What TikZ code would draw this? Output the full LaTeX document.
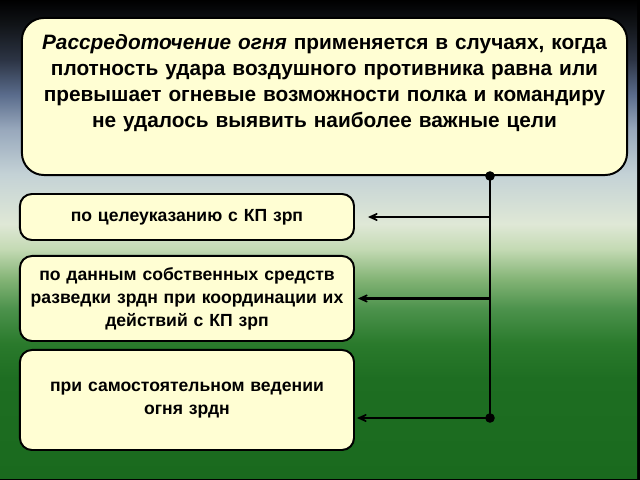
\documentclass[tikz,border=0pt]{standalone}
\usepackage{fontspec}
\setmainfont{Liberation Sans}
\usetikzlibrary{positioning,arrows.meta}

\definecolor{boxfill}{HTML}{FFFED3}
\definecolor{bgA}{HTML}{111418}
\definecolor{bgB}{HTML}{2C3444}
\definecolor{bgC}{HTML}{5A6C8C}
\definecolor{bgD}{HTML}{98A8BC}
\definecolor{bgE}{HTML}{C4D2D6}
\definecolor{bgF}{HTML}{DFE8D6}
\definecolor{bgG}{HTML}{C4DAB4}
\definecolor{bgH}{HTML}{84B476}
\definecolor{bgI}{HTML}{4C924C}
\definecolor{bgJ}{HTML}{2A7A2C}
\definecolor{bgK}{HTML}{1E6E22}
\definecolor{bgL}{HTML}{1A6A1E}

\pgfdeclareverticalshading{slidebg}{100bp}{color(0bp)=(bgL); color(25bp)=(bgL);
  color(35.42bp)=(bgK); color(39.06bp)=(bgJ); color(42.71bp)=(bgI);
  color(45.83bp)=(bgH); color(48.96bp)=(bgG); color(51.56bp)=(bgF);
  color(56.77bp)=(bgE); color(61.46bp)=(bgD); color(65.10bp)=(bgC);
  color(68.75bp)=(bgB); color(72.40bp)=(bgA); color(75bp)=(black);
  color(100bp)=(black)}

\begin{document}
\begin{tikzpicture}[x=0.025cm, y=-0.025cm,
        topbox/.style={rectangle, draw=black, line width=1.4pt, fill=boxfill, rounded corners=0.55cm, minimum width=15.125cm, minimum height=3.925cm, text width=14.8cm, align=center, inner sep=0pt, text depth=2.715cm, font=\bfseries\fontsize{14.8}{18.5}\selectfont},
        subbox/.style={rectangle, draw=black, line width=1.4pt, fill=boxfill, rounded corners=0.3cm, minimum width=8.35cm, text width=8.2cm, align=center, inner xsep=2pt, font=\bfseries\fontsize{12.5}{16.4}\selectfont},
        link/.style={line width=2pt},
        arrow/.style={link, -{Stealth[length=11pt, width=10pt, inset=7pt]}},
        dot/.style={circle, fill=black, inner sep=0pt, minimum size=0.24cm}
    ]

    % Background
    \fill[black] (0,0) rectangle (640,480);
    \shade[shading=slidebg] (0,0) rectangle (637,478);

    % Boxes
    \node[topbox] (main) at (324.5,96.5) {\textit{Рассредоточение огня} применяется в случаях, когда\\ плотность удара воздушного противника равна или\\ превышает огневые возможности полка и командиру\\ не удалось выявить наиболее важные цели};
    \node[subbox, minimum height=1.15cm, below=0.425cm of main.south west, anchor=north west, xshift=-0.05cm] (aim) {по целеуказанию с КП зрп};
    \node[subbox, minimum height=2.125cm, below=0.35cm of aim.south west, anchor=north west] (recon) {по данным собственных средств\\ разведки зрдн при координации их\\ действий с КП зрп};
    \node[subbox, minimum height=2.5cm, below=0.175cm of recon.south west, anchor=north west] (self) {при самостоятельном ведении\\ огня зрдн};

    % Connectors
    \coordinate (trunkend) at (490,418);
    \node[dot] (dtop) at (main.south -| trunkend) {};
    \node[dot] (dbot) at (trunkend) {};
    \draw[link] (dtop.center) -- (dbot.center);
    \draw[arrow] (aim.east -| trunkend) -- ([xshift=0.325cm]aim.east);
    \draw[arrow] (recon.east -| trunkend) -- ([xshift=0.075cm]recon.east);
    \draw[arrow] (dbot.center) -- ([xshift=0.05cm]dbot.center -| self.east);

\end{tikzpicture}
\end{document}
